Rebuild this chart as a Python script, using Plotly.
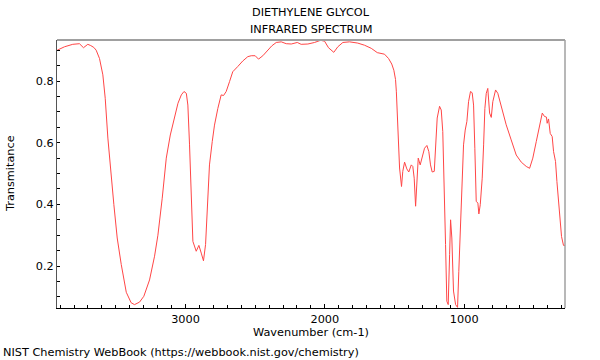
import plotly.graph_objects as go

wavenumber = [3920, 3868, 3809, 3761, 3732, 3701, 3680, 3658, 3641, 3617, 3593, 3576, 3557, 3538,
              3514, 3490, 3461, 3425, 3390, 3366, 3330, 3299, 3258, 3222, 3198, 3167, 3138, 3109,
              3078, 3054, 3030, 3011, 2994, 2983, 2971, 2959, 2947, 2923, 2904, 2887, 2871, 2856,
              2840, 2828, 2808, 2792, 2768, 2744, 2727, 2708, 2684, 2661, 2625, 2589, 2553, 2528,
              2500, 2476, 2445, 2409, 2381, 2349, 2313, 2277, 2241, 2198, 2170, 2122, 2074, 2031,
              2002, 1974, 1936, 1907, 1871, 1823, 1764, 1715, 1667, 1624, 1572, 1543, 1520, 1505,
              1493, 1487, 1483, 1477, 1472, 1464, 1450, 1441, 1428, 1412, 1398, 1380, 1369, 1359,
              1349, 1340, 1330, 1316, 1301, 1285, 1268, 1254, 1242, 1230, 1215, 1206, 1194, 1177,
              1165, 1154, 1144, 1134, 1125, 1115, 1105, 1098, 1089, 1077, 1062, 1048, 1039, 1029,
              1014, 1005, 993, 981, 969, 955, 943, 933, 924, 914, 902, 895, 885, 871, 861, 852,
              842, 831, 818, 806, 795, 775, 759, 734, 699, 663, 627, 591, 555, 531, 508, 483, 460,
              440, 424, 410, 405, 395, 383, 369, 359, 345, 335, 321, 311, 302, 288, 277]
transmittance = [0.900, 0.911, 0.919, 0.921, 0.908, 0.919, 0.915, 0.909, 0.900, 0.873, 0.820, 0.744,
                 0.615, 0.507, 0.399, 0.291, 0.205, 0.115, 0.081, 0.075, 0.083, 0.102, 0.155, 0.232,
                 0.300, 0.420, 0.550, 0.625, 0.680, 0.728, 0.755, 0.766, 0.760, 0.722, 0.593, 0.399,
                 0.280, 0.248, 0.267, 0.242, 0.217, 0.270, 0.399, 0.528, 0.604, 0.657, 0.711, 0.755,
                 0.753, 0.766, 0.798, 0.830, 0.847, 0.865, 0.879, 0.882, 0.882, 0.871, 0.882, 0.900,
                 0.914, 0.925, 0.927, 0.921, 0.920, 0.925, 0.919, 0.920, 0.925, 0.932, 0.929, 0.908,
                 0.893, 0.911, 0.925, 0.927, 0.923, 0.916, 0.906, 0.892, 0.887, 0.873, 0.855, 0.835,
                 0.805, 0.765, 0.715, 0.640, 0.580, 0.518, 0.458, 0.507, 0.537, 0.515, 0.505, 0.528,
                 0.523, 0.485, 0.394, 0.485, 0.550, 0.528, 0.555, 0.582, 0.591, 0.571, 0.528, 0.505,
                 0.507, 0.582, 0.680, 0.718, 0.706, 0.636, 0.485, 0.270, 0.086, 0.075, 0.237, 0.350,
                 0.291, 0.119, 0.075, 0.066, 0.183, 0.300, 0.451, 0.593, 0.641, 0.669, 0.733, 0.766,
                 0.762, 0.722, 0.582, 0.410, 0.404, 0.369, 0.399, 0.485, 0.593, 0.711, 0.760, 0.776,
                 0.696, 0.682, 0.733, 0.771, 0.760, 0.717, 0.658, 0.609, 0.560, 0.537, 0.523, 0.517,
                 0.550, 0.604, 0.658, 0.696, 0.685, 0.683, 0.663, 0.677, 0.630, 0.620, 0.571, 0.539,
                 0.474, 0.399, 0.329, 0.296, 0.267, 0.267]

x_ticks = [3000, 2000, 1000]
y_ticks = [0.2, 0.4, 0.6, 0.8]

FONT = "DejaVu Sans"
FS = 11.3

fig = go.Figure()
fig.add_trace(go.Scatter(x=wavenumber, y=transmittance, mode="lines",
                         line=dict(color="rgb(255,70,70)", width=1), hoverinfo="skip"))

fig.update_layout(
    width=600, height=360,
    margin=dict(l=57, r=35, t=40, b=52),
    paper_bgcolor="white", plot_bgcolor="white",
    showlegend=False,
    font=dict(family=FONT, size=FS, color="black"),
    xaxis=dict(range=[3922, 277], tickvals=x_ticks, ticks="inside", ticklen=4,
               tickcolor="black", showgrid=False, zeroline=False,
               showline=True, linecolor="black", linewidth=1,
               minor=dict(dtick=100, tick0=0, ticks="inside", ticklen=3, tickcolor="black"),
               tickfont=dict(size=FS)),
    yaxis=dict(range=[0.064, 0.933], tickvals=y_ticks, ticktext=["0.2", "0.4", "0.6", "0.8"],
               ticks="inside", ticklen=3, tickcolor="black", showgrid=False, zeroline=False,
               showline=True, linecolor="#555555", linewidth=1,
               minor=dict(dtick=0.05, tick0=0, ticks="inside", ticklen=3, tickcolor="black"),
               tickfont=dict(size=FS)),
)

# top and right frame lines
fig.add_shape(type="line", xref="paper", yref="paper", x0=0, x1=1, y0=1, y1=1,
              line=dict(color="#a0a0a0", width=2))
fig.add_shape(type="line", xref="paper", yref="paper", x0=1, x1=1, y0=0, y1=1,
              line=dict(color="#a0a0a0", width=1.5))

annotations = [
    dict(text="DIETHYLENE GLYCOL", x=0.5, y=(307.7 - 12.5) / 267.7),
    dict(text="INFRARED SPECTRUM", x=0.5, y=(307.7 - 30) / 267.7),
    dict(text="Wavenumber (cm-1)", x=0.5, y=(307.7 - 332) / 267.7),
]
for a in annotations:
    fig.add_annotation(xref="paper", yref="paper", showarrow=False, xanchor="center",
                       yanchor="middle", font=dict(family=FONT, size=FS), **a)
fig.add_annotation(text="Transmitance", xref="paper", yref="paper", x=(10 - 57) / 508, y=0.5,
                   textangle=-90, showarrow=False, xanchor="center", yanchor="middle",
                   font=dict(family=FONT, size=FS))
fig.add_annotation(text="NIST Chemistry WebBook (https://webbook.nist.gov/chemistry)",
                   xref="paper", yref="paper", x=(1 - 57) / 508, y=(307.7 - 352) / 267.7,
                   showarrow=False, xanchor="left", yanchor="middle",
                   font=dict(family=FONT, size=FS))

fig.write_html("out.html", config={"displayModeBar": False},
               post_script="document.body.style.margin='0';document.body.style.overflow='hidden';")
